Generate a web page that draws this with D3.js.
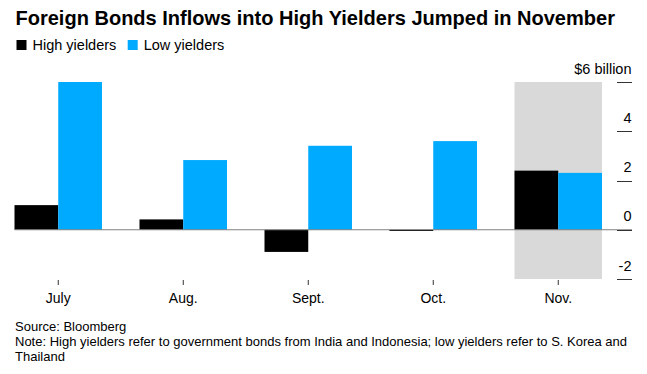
<!DOCTYPE html>
<html>
<head>
<meta charset="utf-8">
<script src="https://cdn.jsdelivr.net/npm/d3@7"></script>
<style>
  html, body { margin: 0; padding: 0; background: #fff; }
  svg { display: block; font-family: "Liberation Sans", Arial, sans-serif; }
</style>
</head>
<body>
<svg id="chart" width="647" height="374"></svg>
<script>
const months = ["July", "Aug.", "Sept.", "Oct.", "Nov."];
const seriesNames = ["High yielders", "Low yielders"];
const highYielders = [1.0, 0.42, -0.9, -0.05, 2.4];
const lowYielders = [6.0, 2.83, 3.41, 3.6, 2.31];
const yTicks = [-2, 0, 2, 4, 6];
const yTickLabels = ["-2", "0", "2", "4", "$6 billion"];
const highlightMonth = "Nov.";
const colors = ["#000000", "#00AAFF"];

const svg = d3.select("#chart");

const x = d3.scaleBand().domain(months).range([14.5, 602]).paddingInner(0.3).paddingOuter(0);
const xSub = d3.scaleBand().domain(seriesNames).range([0, x.bandwidth()]);
const y = d3.scaleLinear().domain([-2, 6]).range([279, 82]);

// highlight band
svg.append("rect")
  .attr("x", x(highlightMonth))
  .attr("y", y(6))
  .attr("width", x.bandwidth())
  .attr("height", y(-2) - y(6))
  .attr("fill", "#D9D9D9");

// bars
const data = months.map((m, i) => ({ m, vals: [highYielders[i], lowYielders[i]] }));
const g = svg.append("g");
data.forEach(d => {
  d.vals.forEach((v, j) => {
    g.append("rect")
      .attr("x", x(d.m) + xSub(seriesNames[j]))
      .attr("y", Math.min(y(v), y(0)))
      .attr("width", xSub.bandwidth())
      .attr("height", Math.max(Math.abs(y(v) - y(0)), 0.8))
      .attr("fill", colors[j]);
  });
});

// zero line
svg.append("line")
  .attr("x1", 14.5).attr("x2", 632)
  .attr("y1", y(0)).attr("y2", y(0))
  .attr("stroke", "#808080").attr("stroke-width", 1);

// right axis
const yAxis = svg.append("g");
yTicks.forEach((t, i) => {
  yAxis.append("line")
    .attr("x1", 617).attr("x2", 632)
    .attr("y1", Math.round(y(t)) + 0.5).attr("y2", Math.round(y(t)) + 0.5)
    .attr("stroke", "#333").attr("stroke-width", 1);
  yAxis.append("text")
    .attr("x", 631.5).attr("y", y(t) - 8.5)
    .attr("text-anchor", "end")
    .attr("font-size", 14.5)
    .attr("fill", "#000")
    .text(yTickLabels[i]);
});

// x axis
const xAxis = d3.axisBottom(x).tickSize(5).tickSizeOuter(0).tickPadding(6);
const xg = svg.append("g").attr("transform", `translate(0,${280})`).call(xAxis);
xg.select(".domain").remove();
xg.selectAll(".tick line").attr("stroke", "#333");
xg.selectAll(".tick text")
  .attr("font-family", "'Liberation Sans', Arial, sans-serif")
  .attr("font-size", 14).attr("fill", "#000")
  .attr("dy", "0.85em");

// title
const title = svg.append("text")
  .attr("x", 15.5).attr("y", 25)
  .attr("font-weight", "bold")
  .attr("font-size", 20)
  .attr("fill", "#000")
  .text("Foreign Bonds Inflows into High Yielders Jumped in November");
const tw = title.node().getComputedTextLength();
title.attr("font-size", 20 * 600 / tw);

// legend
const legendX = [16.5, 127.7];
seriesNames.forEach((s, i) => {
  svg.append("rect").attr("x", legendX[i]).attr("y", 40).attr("width", 10).attr("height", 10).attr("fill", colors[i]);
  svg.append("text").attr("x", legendX[i] + 16).attr("y", 50)
    .attr("font-size", 14.5).attr("fill", "#000").text(s);
});

// footer
const footer = [
  "Source: Bloomberg",
  "Note: High yielders refer to government bonds from India and Indonesia; low yielders refer to S. Korea and",
  "Thailand"
];
footer.forEach((t, i) => {
  svg.append("text").attr("x", 15).attr("y", 331 + i * 15)
    .attr("font-size", 13).attr("fill", "#000").text(t);
});
</script>
</body>
</html>
